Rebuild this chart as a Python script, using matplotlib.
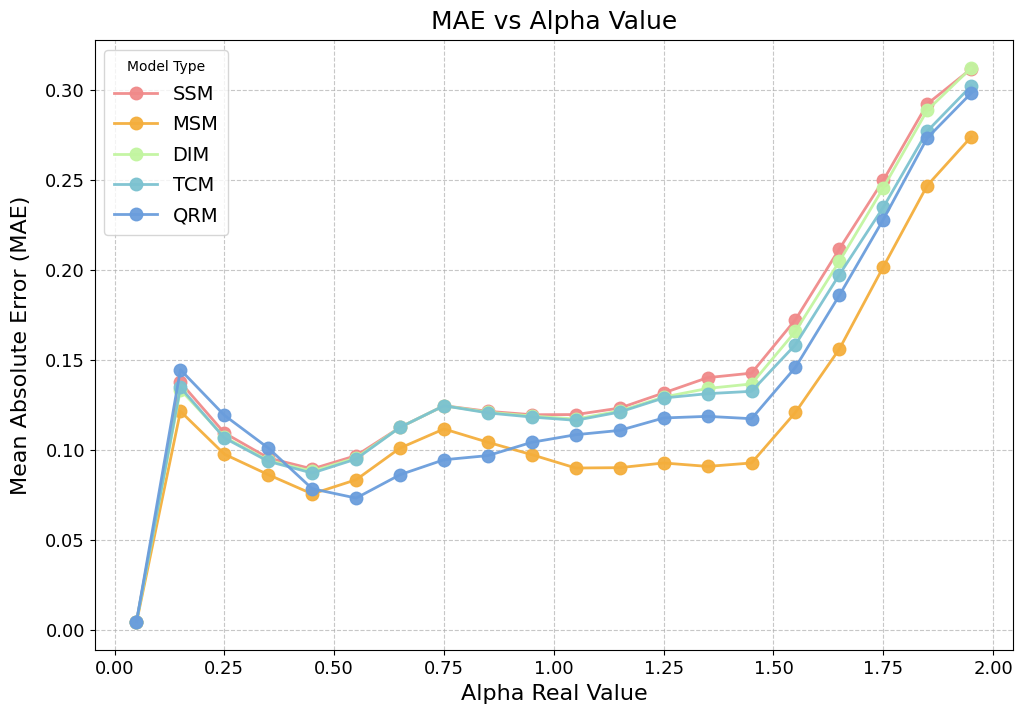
import matplotlib
matplotlib.use("Agg")
import matplotlib.pyplot as plt

alpha_values = [0.05, 0.15, 0.25, 0.35, 0.45, 0.55, 0.65, 0.75, 0.85, 0.95,
                1.05, 1.15, 1.25, 1.35, 1.45, 1.55, 1.65, 1.75, 1.85, 1.95]

ssm = [0.0045, 0.1374, 0.1093, 0.0954, 0.0893, 0.0967, 0.1124, 0.1244, 0.1213, 0.1194,
       0.1195, 0.1231, 0.1315, 0.1400, 0.1425, 0.1722, 0.2115, 0.2496, 0.2920, 0.3115]
msm = [0.0040, 0.1213, 0.0975, 0.0861, 0.0754, 0.0833, 0.1009, 0.1115, 0.1041, 0.0972,
       0.0898, 0.0900, 0.0926, 0.0907, 0.0926, 0.1207, 0.1559, 0.2015, 0.2467, 0.2737]
dim = [0.0045, 0.1333, 0.1070, 0.0940, 0.0880, 0.0955, 0.1124, 0.1244, 0.1208, 0.1187,
       0.1170, 0.1215, 0.1292, 0.1340, 0.1365, 0.1657, 0.2046, 0.2454, 0.2885, 0.3120]
tcm = [0.0045, 0.1346, 0.1065, 0.0935, 0.0870, 0.0948, 0.1124, 0.1244, 0.1204, 0.1181,
       0.1163, 0.1209, 0.1287, 0.1311, 0.1324, 0.1583, 0.1972, 0.2346, 0.2769, 0.3020]
qrm = [0.0045, 0.1444, 0.1191, 0.1009, 0.0783, 0.0731, 0.0861, 0.0944, 0.0967, 0.1041,
       0.1083, 0.1107, 0.1176, 0.1185, 0.1172, 0.1457, 0.1857, 0.2278, 0.2731, 0.2980]

series_names = ["SSM", "MSM", "DIM", "TCM", "QRM"]
series_values = [ssm, msm, dim, tcm, qrm]
series_colors = ["#F08A8A", "#F4AE3C", "#C2F5A0", "#7CC2D0", "#6A9DDC"]

fig = plt.figure(figsize=(10.19, 7.06), dpi=100)
ax = fig.add_axes([0.093, 0.079, 0.901, 0.864])

for name, vals, col in zip(series_names, series_values, series_colors):
    ax.plot(alpha_values, vals, marker="o", color=col, linewidth=2,
            markersize=9, label=name, alpha=0.95)

ax.set_title("MAE vs Alpha Value", fontsize=18, pad=8)
ax.set_xlabel("Alpha Real Value", fontsize=16)
ax.set_ylabel("Mean Absolute Error (MAE)", fontsize=16, labelpad=10)
ax.tick_params(labelsize=13)
ax.set_xticks([0.0, 0.25, 0.5, 0.75, 1.0, 1.25, 1.5, 1.75, 2.0])
ax.set_yticks([0.0, 0.05, 0.10, 0.15, 0.20, 0.25, 0.30])
ax.grid(True, linestyle="--", alpha=0.7)
leg = ax.legend(title="Model Type", fontsize=14, title_fontsize=10, loc="upper left",
                labelspacing=0.58, handlelength=2.2, borderpad=0.5)

fig.savefig("out.png", dpi=100)
